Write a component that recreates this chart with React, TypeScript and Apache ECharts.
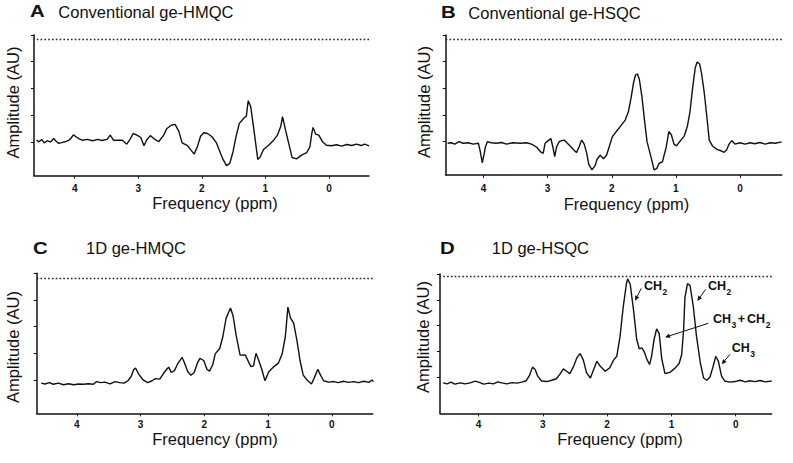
import React, { useEffect, useRef } from 'react';
import * as echarts from 'echarts';

const tickPpm = [0, 1, 2, 3, 4];
const tickAmp = [0, 1, 2, 3, 4];
const letters = ['A', 'B', 'C', 'D'];
const titles = ['Conventional ge-HMQC', 'Conventional ge-HSQC', '1D ge-HMQC', '1D ge-HSQC'];
const xAxisName = 'Frequency (ppm)';
const yAxisName = 'Amplitude (AU)';
const referenceLevels = [3.85, 3.85, 3.81, 3.93];

const ppmA = [4.6, 4.56, 4.52, 4.48, 4.43, 4.38, 4.33, 4.3, 4.25, 4.19, 4.14, 4.09, 4.05, 4.02, 3.98, 3.93, 3.88, 3.8, 3.72, 3.64, 3.57, 3.49, 3.44, 3.39, 3.33, 3.25, 3.18, 3.13, 3.08, 3.02, 2.96, 2.91, 2.87, 2.81, 2.76, 2.68, 2.6, 2.55, 2.48, 2.42, 2.36, 2.31, 2.23, 2.17, 2.12, 2.07, 2.02, 1.97, 1.91, 1.84, 1.77, 1.71, 1.66, 1.61, 1.56, 1.51, 1.46, 1.41, 1.34, 1.3, 1.27, 1.23, 1.18, 1.12, 1.08, 1.03, 0.95, 0.87, 0.81, 0.76, 0.73, 0.68, 0.63, 0.58, 0.51, 0.43, 0.35, 0.3, 0.27, 0.25, 0.21, 0.16, 0.1, 0.04, -0.04, -0.12, -0.2, -0.28, -0.36, -0.43, -0.51, -0.56, -0.63];
const ampA = [0.06, 0, 0.09, -0.04, 0.04, -0.01, 0.12, 0.04, -0.06, -0.02, 0.01, 0.06, 0.16, 0.26, 0.19, 0.11, 0.06, 0.09, 0.04, 0.09, 0.05, 0.09, 0.25, 0.06, 0.06, 0.06, -0.09, 0.09, 0.31, 0.25, 0.16, -0.15, 0.06, 0.23, 0.13, 0, 0.25, 0.5, 0.62, 0.65, 0.38, -0.04, -0.13, -0.31, -0.46, -0.19, 0.21, 0.34, 0.31, 0.19, -0.04, -0.41, -0.69, -0.89, -0.81, -0.38, 0.21, 0.69, 0.88, 0.96, 1.54, 1.31, 0.44, -0.66, -0.56, -0.29, -0.13, 0.06, 0.25, 0.56, 0.94, 0.41, -0.09, -0.59, -0.64, -0.5, -0.41, -0.19, 0.31, 0.54, 0.29, 0.25, 0, -0.13, -0.15, -0.11, -0.16, -0.1, -0.14, -0.09, -0.14, -0.09, -0.15];

const ppmB = [4.56, 4.5, 4.45, 4.38, 4.32, 4.24, 4.16, 4.08, 4.05, 4.02, 3.99, 3.97, 3.94, 3.88, 3.8, 3.72, 3.64, 3.54, 3.43, 3.33, 3.25, 3.17, 3.11, 3.07, 3.04, 2.99, 2.95, 2.92, 2.89, 2.86, 2.82, 2.78, 2.74, 2.7, 2.65, 2.6, 2.55, 2.51, 2.47, 2.43, 2.39, 2.36, 2.31, 2.26, 2.23, 2.18, 2.13, 2.08, 2.04, 1.99, 1.92, 1.86, 1.79, 1.74, 1.7, 1.66, 1.63, 1.6, 1.57, 1.53, 1.49, 1.45, 1.39, 1.34, 1.3, 1.26, 1.21, 1.15, 1.11, 1.07, 1.03, 0.99, 0.94, 0.87, 0.82, 0.78, 0.74, 0.7, 0.67, 0.63, 0.6, 0.56, 0.52, 0.48, 0.43, 0.36, 0.3, 0.25, 0.21, 0.17, 0.13, 0.08, 0, -0.08, -0.16, -0.23, -0.31, -0.39, -0.47, -0.55, -0.65];
const ampB = [-0.06, -0.04, -0.09, 0, -0.06, -0.04, -0.09, -0.06, -0.38, -0.79, -0.46, -0.19, 0, -0.04, -0.06, -0.03, -0.09, -0.04, -0.06, -0.04, -0.09, -0.21, -0.38, -0.44, -0.06, 0.04, 0.12, -0.19, -0.56, -0.19, 0, 0.04, 0.06, -0.04, -0.16, -0.29, -0.41, -0.19, 0.06, -0.09, -0.44, -0.84, -1.06, -0.9, -0.66, -0.51, -0.64, -0.5, -0.19, 0.19, 0.41, 0.59, 0.81, 1.13, 1.63, 2.21, 2.5, 2.54, 2.34, 1.69, 0.81, 0, -0.56, -1.06, -1.01, -0.81, -0.76, -0.19, 0.38, 0.25, -0.09, -0.16, 0, 0.21, 0.59, 1.13, 2.0, 2.75, 2.99, 2.91, 2.56, 1.88, 1.0, 0.06, -0.16, -0.29, -0.34, -0.4, -0.31, -0.09, 0.04, -0.09, -0.04, -0.09, -0.04, -0.08, -0.03, -0.09, -0.04, -0.06, -0.01];

const ppmC = [4.56, 4.5, 4.43, 4.37, 4.29, 4.21, 4.13, 4.05, 3.97, 3.9, 3.82, 3.74, 3.69, 3.63, 3.56, 3.48, 3.4, 3.33, 3.26, 3.2, 3.15, 3.11, 3.08, 3.03, 2.96, 2.89, 2.82, 2.77, 2.7, 2.64, 2.59, 2.56, 2.52, 2.47, 2.42, 2.35, 2.31, 2.26, 2.21, 2.16, 2.11, 2.07, 2.01, 1.96, 1.92, 1.87, 1.83, 1.76, 1.71, 1.66, 1.59, 1.55, 1.5, 1.44, 1.36, 1.31, 1.27, 1.23, 1.19, 1.15, 1.1, 1.05, 0.99, 0.92, 0.84, 0.78, 0.73, 0.69, 0.65, 0.6, 0.55, 0.5, 0.45, 0.39, 0.32, 0.28, 0.22, 0.18, 0.13, 0.05, -0.03, -0.1, -0.18, -0.26, -0.34, -0.42, -0.5, -0.58, -0.63, -0.65];
const ampC = [-0.12, -0.15, -0.1, -0.16, -0.12, -0.18, -0.14, -0.18, -0.15, -0.16, -0.14, -0.16, -0.06, -0.1, -0.08, -0.15, -0.06, -0.1, -0.12, -0.03, 0.12, 0.38, 0.45, 0.22, 0, -0.1, -0.03, 0.05, 0.03, 0.25, 0.4, 0.48, 0.28, 0.35, 0.6, 0.85, 0.63, 0.31, 0.18, 0.28, 0.63, 0.81, 0.73, 0.4, 0.33, 0.56, 0.98, 1.18, 1.63, 2.31, 2.7, 2.4, 1.65, 0.93, 0.94, 0.69, 0.5, 0.53, 1.0, 0.75, 0.4, -0.03, 0.31, 0.48, 0.63, 0.98, 1.63, 2.73, 2.33, 2.13, 1.5, 0.73, 0.18, 0, -0.15, 0.06, 0.4, 0.19, -0.03, -0.08, -0.06, -0.1, -0.05, -0.09, -0.06, -0.1, -0.05, -0.09, 0, -0.06];

const ppmD = [4.55, 4.49, 4.43, 4.37, 4.28, 4.21, 4.13, 4.05, 4.0, 3.92, 3.84, 3.77, 3.7, 3.64, 3.56, 3.48, 3.4, 3.33, 3.26, 3.21, 3.16, 3.12, 3.08, 3.02, 2.94, 2.86, 2.79, 2.74, 2.68, 2.63, 2.58, 2.52, 2.47, 2.42, 2.37, 2.32, 2.26, 2.21, 2.16, 2.11, 2.03, 1.96, 1.9, 1.85, 1.8, 1.75, 1.7, 1.68, 1.64, 1.59, 1.54, 1.5, 1.46, 1.42, 1.38, 1.34, 1.31, 1.27, 1.23, 1.19, 1.15, 1.1, 1.02, 0.94, 0.88, 0.84, 0.81, 0.79, 0.75, 0.71, 0.66, 0.61, 0.55, 0.5, 0.45, 0.4, 0.35, 0.31, 0.27, 0.22, 0.17, 0.09, 0.01, -0.07, -0.15, -0.22, -0.3, -0.38, -0.46, -0.56];
const ampD = [-0.22, -0.26, -0.19, -0.27, -0.22, -0.26, -0.22, -0.15, -0.19, -0.27, -0.23, -0.26, -0.18, -0.22, -0.26, -0.21, -0.23, -0.19, -0.14, 0.06, 0.39, 0.3, 0.04, -0.15, -0.17, -0.12, -0.06, 0.1, 0.32, 0.23, 0.14, 0.43, 0.75, 0.92, 0.66, 0.17, -0.03, 0.3, 0.62, 0.43, 0.23, 0.36, 0.66, 0.81, 1.56, 2.72, 3.63, 3.81, 3.59, 2.62, 1.46, 1.1, 1.14, 0.97, 0.68, 0.49, 0.79, 1.46, 1.87, 1.69, 0.71, 0.14, 0.19, 0.36, 0.53, 0.88, 1.85, 3.07, 3.63, 3.55, 2.75, 1.59, 0.55, -0.03, -0.12, 0.01, 0.43, 0.81, 0.62, 0.04, -0.15, -0.19, -0.17, -0.12, -0.18, -0.14, -0.17, -0.13, -0.18, -0.15];

const ppmSets = [ppmA, ppmB, ppmC, ppmD];
const ampSets = [ampA, ampB, ampC, ampD];

const FONT = "'Liberation Sans', Arial, Helvetica, sans-serif";
const INK = '#111';

const layouts = [
  { left: 34, top: 35, width: 335, height: 140.7, xMin: -0.63, xMax: 4.64, yMin: -1.27, labelMargin: 8, letterX: 30, letterY: 11.5, titleX: 58.3, titleY: 11.5, xNameX: 215, xNameY: 202.5, yNameX: 12.5, yNameY: 102.5 },
  { left: 445.7, top: 35, width: 336, height: 140, xMin: -0.65, xMax: 4.59, yMin: -1.25, labelMargin: 8, letterX: 441, letterY: 12, titleX: 468.3, titleY: 12.5, xNameX: 626.5, xNameY: 203.5, yNameX: 424, yNameY: 102 },
  { left: 36.7, top: 273.3, width: 336, height: 140, xMin: -0.64, xMax: 4.63, yMin: -1.25, labelMargin: 6, letterX: 33, letterY: 248, titleX: 86, titleY: 248, xNameX: 215, xNameY: 438.5, yNameX: 12.5, yNameY: 347 },
  { left: 440, top: 274, width: 331.7, height: 139.3, xMin: -0.56, xMax: 4.6, yMin: -1.4, labelMargin: 6, letterX: 440, letterY: 248, titleX: 491.7, titleY: 248, xNameX: 620, xNameY: 438.5, yNameX: 422.5, yNameY: 337 },
];

// Annotations in panel D: main text, subscript, positions in pixels
const annotations = [
  { parts: [['CH', '2']], x: 644, y: 285.5, arrow: [641.3, 288.3, 635, 300.7] },
  { parts: [['CH', '2']], x: 708, y: 285.5, arrow: [705.7, 289.3, 697.3, 301] },
  { parts: [['CH', '3'], ['+', ''], ['CH', '2']], x: 713, y: 319, arrow: [708.3, 323.3, 665, 337.3] },
  { parts: [['CH', '3']], x: 731.7, y: 348.3, arrow: [730, 354.3, 721.7, 364.3] },
];

function txt(text: string, x: number, y: number, size: number, weight: string, align = 'left', rotation = 0, scaleX = 1) {
  return {
    type: 'text',
    x,
    y,
    rotation,
    scaleX,
    silent: true,
    style: {
      text,
      fill: INK,
      fontSize: size,
      fontWeight: weight,
      fontFamily: FONT,
      align,
      textAlign: align,
      verticalAlign: 'middle',
      textVerticalAlign: 'middle',
    },
  };
}

function arrowEls(x1: number, y1: number, x2: number, y2: number) {
  const a = Math.atan2(y2 - y1, x2 - x1);
  const L = 5;
  const W = 2.3;
  const bx = x2 - L * Math.cos(a);
  const by = y2 - L * Math.sin(a);
  const pts = [
    [x2, y2],
    [bx + W * Math.sin(a), by - W * Math.cos(a)],
    [bx - W * Math.sin(a), by + W * Math.cos(a)],
  ];
  return [
    { type: 'line', silent: true, shape: { x1, y1, x2: bx, y2: by }, style: { stroke: INK, lineWidth: 1 } },
    { type: 'polygon', silent: true, shape: { points: pts }, style: { fill: INK } },
  ];
}

function measure(text: string, size: number) {
  const c = document.createElement('canvas').getContext('2d')!;
  c.font = `bold ${size}px ${FONT}`;
  return c.measureText(text).width;
}

export default function App() {
  const ref = useRef<HTMLDivElement>(null);

  useEffect(() => {
    if (!ref.current) return;
    const chart = echarts.init(ref.current, null, { renderer: 'svg' });

    const graphics: any[] = [];
    layouts.forEach((l, i) => {
      graphics.push(txt(letters[i], l.letterX, l.letterY, 17, 'bold', 'left', 0, 1.2));
      graphics.push(txt(titles[i], l.titleX, l.titleY, 16.5, 'normal'));
      graphics.push(txt(xAxisName, l.xNameX, l.xNameY, 16.5, 'normal', 'center'));
      graphics.push(txt(yAxisName, l.yNameX, l.yNameY, 16.5, 'normal', 'center', Math.PI / 2));
    });

    const mainSize = 12.5;
    const subSize = 8.5;
    annotations.forEach((an) => {
      let x = an.x;
      an.parts.forEach(([main, sub]) => {
        graphics.push(txt(main, x, an.y, mainSize, 'bold'));
        x += measure(main, mainSize) + 0.5;
        if (sub) {
          graphics.push(txt(sub, x, an.y + 6, subSize, 'bold'));
          x += measure(sub, subSize) + 1.5;
        } else {
          x += 1.5;
        }
      });
      const [x1, y1, x2, y2] = an.arrow;
      graphics.push(...arrowEls(x1, y1, x2, y2));
    });

    chart.setOption({
      animation: false,
      backgroundColor: '#fff',
      grid: layouts.map((l) => ({ left: l.left, top: l.top, width: l.width, height: l.height, containLabel: false })),
      xAxis: layouts.map((l, i) => ({
        type: 'value',
        gridIndex: i,
        inverse: true,
        min: l.xMin,
        max: l.xMax,
        splitLine: { show: false },
        axisLine: { show: true, onZero: false, lineStyle: { color: INK, width: 1.5 } },
        axisTick: { show: true, length: 3, customValues: tickPpm, lineStyle: { color: INK, width: 1 } },
        axisLabel: {
          show: true,
          customValues: tickPpm,
          margin: l.labelMargin,
          color: INK,
          fontSize: 10,
          fontWeight: 'bold',
          fontFamily: FONT,
        },
      })),
      yAxis: layouts.map((l, i) => ({
        type: 'value',
        gridIndex: i,
        min: l.yMin,
        max: 4,
        splitLine: { show: false },
        axisLine: { show: true, onZero: false, lineStyle: { color: INK, width: 1.5 } },
        axisTick: { show: true, length: 3, customValues: tickAmp, lineStyle: { color: INK, width: 1 } },
        axisLabel: { show: false },
      })),
      series: layouts.map((l, i) => ({
        type: 'line',
        xAxisIndex: i,
        yAxisIndex: i,
        data: ppmSets[i].map((x, j) => [x, ampSets[i][j]]),
        showSymbol: false,
        symbol: 'none',
        silent: true,
        lineStyle: { color: INK, width: 1.4 },
        markLine: {
          silent: true,
          symbol: ['none', 'none'],
          label: { show: false },
          lineStyle: { type: [1.6, 2.2], color: '#222', width: 1.3 },
          data: [{ yAxis: referenceLevels[i] }],
        },
      })),
      graphic: graphics,
    });

    return () => chart.dispose();
  }, []);

  return (
    <div
      ref={ref}
      style={{ position: 'fixed', left: 0, top: 0, width: 793, height: 463, background: '#fff' }}
    />
  );
}
